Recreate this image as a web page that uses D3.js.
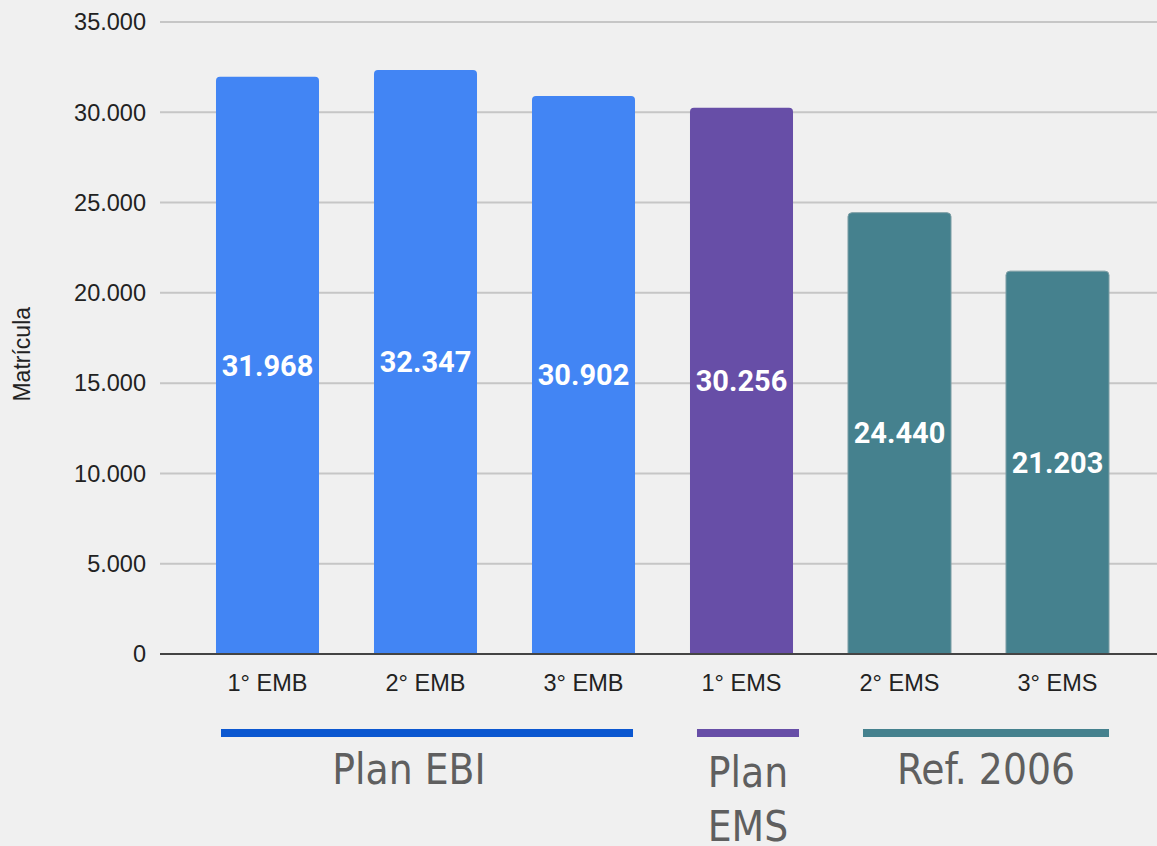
<!DOCTYPE html>
<html>
<head>
<meta charset="utf-8">
<script src="https://cdn.jsdelivr.net/npm/d3@7"></script>
<style>
  html, body { margin: 0; padding: 0; background: #f0f0f0; }
  svg { display: block; }
</style>
</head>
<body>
<div id="chart"></div>
<script>
// Data
const categories = ["1° EMB", "2° EMB", "3° EMB", "1° EMS", "2° EMS", "3° EMS"];
const matricula = [31968, 32347, 30902, 30256, 24440, 21203];
const barColors = ["#4285f4", "#4285f4", "#4285f4", "#674ea7", "#45818e", "#45818e"];
const yTicks = [0, 5000, 10000, 15000, 20000, 25000, 30000, 35000];

// Groups under the axis
const groupNames = [["Plan EBI"], ["Plan", "EMS"], ["Ref. 2006"]];
const groupFirst = ["1° EMB", "1° EMS", "2° EMS"];
const groupLast = ["3° EMB", "1° EMS", "3° EMS"];
const groupColors = ["#0b57d0", "#674ea7", "#45818e"];

const width = 1157;
const height = 846;

const svg = d3.select("#chart")
    .append("svg")
    .attr("width", width)
    .attr("height", height);

const x = d3.scaleBand()
    .domain(categories)
    .range([188.5, 1136.5])
    .paddingInner(0.348)
    .paddingOuter(0.174);

const y = d3.scaleLinear()
    .domain([0, 35000])
    .range([654, 22]);

const fmt = d3.format(",");
const dotted = v => fmt(v).replace(/,/g, ".");
const sans = "Liberation Sans, Arial, sans-serif";

// gridlines
svg.append("g")
    .selectAll("line")
    .data(yTicks.slice(1))
    .enter()
    .append("line")
    .attr("x1", 160)
    .attr("x2", width)
    .attr("y1", d => y(d))
    .attr("y2", d => y(d))
    .attr("stroke", "#c6c6c6")
    .attr("stroke-width", 2);

// y tick labels
svg.append("g")
    .selectAll("text")
    .data(yTicks)
    .enter()
    .append("text")
    .attr("x", 146)
    .attr("y", d => y(d))
    .attr("dy", "0.35em")
    .attr("text-anchor", "end")
    .attr("font-family", sans)
    .attr("font-size", 23.5)
    .attr("fill", "#222")
    .text(d => dotted(d));

// y axis title
svg.append("text")
    .attr("transform", `translate(30, ${y(16600)}) rotate(-90)`)
    .attr("text-anchor", "middle")
    .attr("font-family", sans)
    .attr("font-size", 23)
    .attr("fill", "#222")
    .text("Matrícula");

// bars with rounded tops
const r = 4;
const barPath = (x0, w, yTop, yBase) =>
    `M${x0},${yBase}V${yTop + r}Q${x0},${yTop} ${x0 + r},${yTop}` +
    `H${x0 + w - r}Q${x0 + w},${yTop} ${x0 + w},${yTop + r}V${yBase}Z`;

svg.append("g")
    .selectAll("path")
    .data(matricula)
    .enter()
    .append("path")
    .attr("d", (d, i) => barPath(x(categories[i]), x.bandwidth(), y(d), y(0)))
    .attr("fill", (d, i) => barColors[i])
    .attr("stroke", (d, i) => i >= 4 ? "#7d9ea5" : "none")
    .attr("stroke-width", 1);

// value labels inside bars
svg.append("g")
    .selectAll("text")
    .data(matricula)
    .enter()
    .append("text")
    .attr("x", (d, i) => x(categories[i]) + x.bandwidth() / 2)
    .attr("y", d => (y(d) + y(0)) / 2)
    .attr("dy", "0.35em")
    .attr("text-anchor", "middle")
    .attr("font-family", "Roboto, sans-serif")
    .attr("font-weight", "bold")
    .attr("font-size", 29)
    .attr("fill", "#fff")
    .text(d => dotted(d));

// zero line
svg.append("line")
    .attr("x1", 160)
    .attr("x2", width)
    .attr("y1", y(0))
    .attr("y2", y(0))
    .attr("stroke", "#444")
    .attr("stroke-width", 2);

// category labels
svg.append("g")
    .selectAll("text")
    .data(categories)
    .enter()
    .append("text")
    .attr("x", d => x(d) + x.bandwidth() / 2)
    .attr("y", 691)
    .attr("text-anchor", "middle")
    .attr("font-family", sans)
    .attr("font-size", 23.5)
    .attr("fill", "#222")
    .text(d => d);

// group lines and names
const groups = svg.append("g")
    .selectAll("g")
    .data(groupNames)
    .enter()
    .append("g");

const insetL = [5, 7, 15];
const insetR = [-2, 6, 0];
const nameShift = [-18, 0, 0];
const gx1 = i => x(groupFirst[i]) + insetL[i];
const gx2 = i => x(groupLast[i]) + x.bandwidth() + insetR[i];

groups.append("rect")
    .attr("x", (d, i) => gx1(i))
    .attr("y", 729)
    .attr("width", (d, i) => gx2(i) - gx1(i))
    .attr("height", 8)
    .attr("fill", (d, i) => groupColors[i]);

groups.each(function(lines, i) {
    const cx = (gx1(i) + gx2(i)) / 2 + nameShift[i];
    const t = d3.select(this).append("text")
        .attr("y", 784)
        .attr("text-anchor", "middle")
        .attr("font-family", "'Liberation Sans Narrow', 'DejaVu Sans Condensed', sans-serif")
        .attr("font-size", 42)
        .attr("fill", "#5f5f5f");
    lines.forEach((s, k) => {
        t.append("tspan")
            .attr("x", cx)
            .attr("dy", k === 0 ? (lines.length > 1 ? 3 : 0) : 54)
            .text(s);
    });
});
</script>
</body>
</html>
